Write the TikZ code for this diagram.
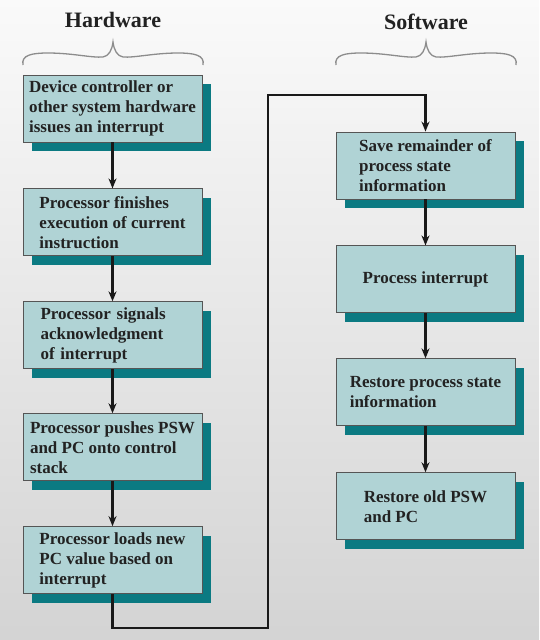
\documentclass[tikz,border=0pt]{standalone}
\usepackage{fontspec}
\setmainfont{Liberation Serif}
\usetikzlibrary{positioning,shadows,arrows.meta}
\definecolor{boxfill}{HTML}{B0D3D5}
\definecolor{boxshadow}{HTML}{0B7A82}
\definecolor{boxline}{HTML}{555555}
\definecolor{inktext}{HTML}{222222}
\tikzset{
  stepbox/.style={draw=boxline, line width=0.9pt, fill=boxfill,
    minimum width=179pt, minimum height=67pt, inner xsep=3pt,
    align=left, text=inktext, font=\fontsize{17}{20}\selectfont\bfseries,
    drop shadow={shadow xshift=9pt, shadow yshift=-9pt, fill=boxshadow, opacity=1}},
  flow/.style={->, line width=2.2pt, black!90},
  brace/.style={line width=1.3pt, black!45},
  head/.style={font=\fontsize{22}{26}\selectfont\bfseries, text=inktext}
}
\begin{document}
\begin{tikzpicture}[x=1pt, y=-1pt, >={Stealth[length=10pt,width=8pt]}, node distance=45pt]
    \useasboundingbox (0,0) rectangle (539,640);
    \shade[top color=white!98!black, bottom color=black!17] (0,0) rectangle (539,640);
    % titles and braces
    \node[head] (hwtitle) at (113,20) {Hardware};
    \node[head] (swtitle) at (426,22) {Software};
    \draw[brace] (23,65) .. controls (21,55) and (32,53) .. (48,53) .. controls (72,53) and (92,58) .. (103,57) .. controls (109,56) and (112,50) .. (113,42) .. controls (114,50) and (117,56) .. (123,57) .. controls (134,58) and (154,53) .. (178,53) .. controls (194,53) and (205,55) .. (203,65);
    \draw[brace, xshift=313pt] (23,65) .. controls (21,55) and (32,53) .. (48,53) .. controls (72,53) and (92,58) .. (103,57) .. controls (109,56) and (112,50) .. (113,42) .. controls (114,50) and (117,56) .. (123,57) .. controls (134,58) and (154,53) .. (178,53) .. controls (194,53) and (205,55) .. (203,65);
    % hardware steps
    \node[stepbox] (b1) at (112.5,108.5) {Device controller or\\other system hardware\\issues an interrupt};
    \node[stepbox, below=46pt of b1] (b2) {Processor finishes\\execution of current\\instruction};
    \node[stepbox, below=45pt of b2, text width=144pt] (b3) {Processor signals\\acknowledgment\\of interrupt};
    \node[stepbox, below=44pt of b3] (b4) {Processor pushes PSW\\and PC onto control\\stack};
    \node[stepbox, below=45pt of b4] (b5) {Processor loads new\\PC value based on\\interrupt};
    % software steps
    \node[stepbox] (s1) at (425.5,165.5) {Save remainder of\\process state\\information};
    \node[stepbox, below=46pt of s1] (s2) {Process interrupt};
    \node[stepbox, below=45pt of s2] (s3) {Restore process state\\information};
    \node[stepbox, below=46pt of s3] (s4) {Restore old PSW\\and PC};
    % connectors
    \draw[flow] (b1) -- (b2);
    \draw[flow] (b2) -- (b3);
    \draw[flow] (b3) -- (b4);
    \draw[flow] (b4) -- (b5);
    \coordinate (lowturn) at (268,628);
    \coordinate (highturn) at (268,95);
    \draw[flow] (b5.south) |- (lowturn) -- (highturn) -| (s1.north);
    \draw[flow] (s1) -- (s2);
    \draw[flow] (s2) -- (s3);
    \draw[flow] (s3) -- (s4);
\end{tikzpicture}
\end{document}
